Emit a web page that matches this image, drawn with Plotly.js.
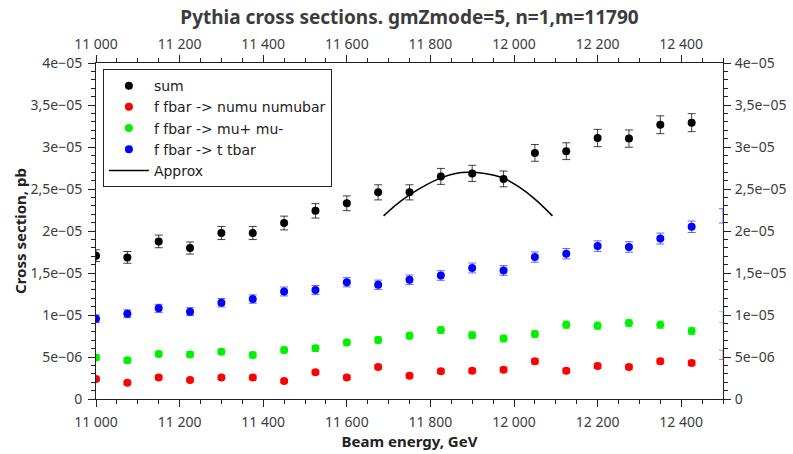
<!DOCTYPE html>
<html>
<head>
<meta charset="utf-8">
<script src="https://cdn.plot.ly/plotly-3.0.1.min.js"></script>
<style>html,body{margin:0;padding:0;background:#fff}#chart{width:793px;height:454px}</style>
</head>
<body>
<div id="chart"></div>
<script>
// Beam energies (GeV)
const energy = [11000, 11075, 11150, 11225, 11300, 11375, 11450, 11525, 11600, 11675,
                11750, 11825, 11900, 11975, 12050, 12125, 12200, 12275, 12350, 12425];

// Cross sections (pb)
const sumXs = [17.06e-6, 16.86e-6, 18.76e-6, 17.97e-6, 19.76e-6, 19.76e-6, 20.95e-6, 22.4e-6, 23.3e-6, 24.6e-6,
               24.6e-6, 26.5e-6, 26.86e-6, 26.2e-6, 29.3e-6, 29.5e-6, 31.07e-6, 31.0e-6, 32.65e-6, 32.9e-6];
const sumErr = [0.70e-6, 0.70e-6, 0.75e-6, 0.72e-6, 0.78e-6, 0.78e-6, 0.82e-6, 0.86e-6, 0.88e-6, 0.90e-6,
                0.90e-6, 0.95e-6, 0.96e-6, 0.94e-6, 1.00e-6, 1.00e-6, 1.03e-6, 1.03e-6, 1.06e-6, 1.07e-6];

const numuXs = [2.38e-6, 1.94e-6, 2.57e-6, 2.26e-6, 2.57e-6, 2.57e-6, 2.14e-6, 3.17e-6, 2.57e-6, 3.81e-6,
                2.77e-6, 3.29e-6, 3.37e-6, 3.49e-6, 4.48e-6, 3.37e-6, 3.93e-6, 3.81e-6, 4.48e-6, 4.29e-6];
const numuErr = [0.23e-6, 0.21e-6, 0.24e-6, 0.22e-6, 0.24e-6, 0.24e-6, 0.22e-6, 0.27e-6, 0.24e-6, 0.29e-6,
                 0.25e-6, 0.27e-6, 0.28e-6, 0.28e-6, 0.32e-6, 0.28e-6, 0.30e-6, 0.29e-6, 0.32e-6, 0.31e-6];

const mumuXs = [4.95e-6, 4.6e-6, 5.36e-6, 5.3e-6, 5.63e-6, 5.24e-6, 5.83e-6, 6.03e-6, 6.74e-6, 7.02e-6,
                7.54e-6, 8.21e-6, 7.6e-6, 7.2e-6, 7.74e-6, 8.85e-6, 8.73e-6, 9.05e-6, 8.85e-6, 8.1e-6];
const mumuErr = [0.33e-6, 0.32e-6, 0.34e-6, 0.34e-6, 0.35e-6, 0.34e-6, 0.36e-6, 0.37e-6, 0.39e-6, 0.39e-6,
                 0.41e-6, 0.43e-6, 0.41e-6, 0.40e-6, 0.42e-6, 0.44e-6, 0.44e-6, 0.45e-6, 0.44e-6, 0.43e-6];

const ttXs = [9.56e-6, 10.15e-6, 10.79e-6, 10.4e-6, 11.46e-6, 11.9e-6, 12.8e-6, 12.97e-6, 13.9e-6, 13.6e-6,
              14.2e-6, 14.7e-6, 15.6e-6, 15.3e-6, 16.9e-6, 17.3e-6, 18.2e-6, 18.1e-6, 19.1e-6, 20.5e-6];
const ttErr = [0.45e-6, 0.47e-6, 0.48e-6, 0.47e-6, 0.50e-6, 0.50e-6, 0.53e-6, 0.54e-6, 0.55e-6, 0.55e-6,
               0.56e-6, 0.57e-6, 0.59e-6, 0.58e-6, 0.61e-6, 0.62e-6, 0.63e-6, 0.63e-6, 0.65e-6, 0.68e-6];

// Points sitting on the right edge (only their error bars show)
const edgeEnergy = [12500];
const edgeNumu = [5.25e-6], edgeNumuErr = [0.55e-6];
const edgeMumu = [9.75e-6], edgeMumuErr = [0.65e-6];
const edgeTt = [21.8e-6], edgeTtErr = [0.85e-6];

// Approximation curve
const approxE = [11688, 11720, 11750, 11790, 11824, 11860, 11890, 11930, 11974, 12010, 12050, 12092];
const approxXs = [21.8e-6, 23.2e-6, 24.3e-6, 25.5e-6, 26.3e-6, 26.85e-6, 27.0e-6, 26.85e-6, 26.3e-6, 25.3e-6, 23.8e-6, 21.8e-6];

// Axis ticks
const xTickVals = [11000, 11200, 11400, 11600, 11800, 12000, 12200, 12400];
const xTickText = ["11 000", "11 200", "11 400", "11 600", "11 800", "12 000", "12 200", "12 400"];
const yTickVals = [0, 5e-6, 1e-5, 1.5e-5, 2e-5, 2.5e-5, 3e-5, 3.5e-5, 4e-5];
const yTickText = ["0", "5e\u221206", "1e\u221205", "1,5e\u221205", "2e\u221205", "2,5e\u221205", "3e\u221205", "3,5e\u221205", "4e\u221205"];

const FONT = "Noto Sans, Open Sans, sans-serif";
const TXT = "#3c3c3c";

function pts(name, y, err, color, errColor) {
  return {
    type: "scatter", mode: "markers", name: name, x: energy, y: y,
    marker: {color: color, size: 8, symbol: "circle"},
    error_y: {type: "data", array: err, visible: true, color: errColor, thickness: 1, width: 4},
    cliponaxis: true
  };
}
function edge(y, err, errColor) {
  return {
    type: "scatter", mode: "markers", x: edgeEnergy, y: y, showlegend: false, hoverinfo: "skip",
    marker: {color: "rgba(0,0,0,0)", size: 8},
    error_y: {type: "data", array: err, visible: true, color: errColor, thickness: 1, width: 4},
    cliponaxis: true
  };
}

const traces = [
  pts("sum", sumXs, sumErr, "#000000", "rgba(0,0,0,0.75)"),
  pts("f fbar -> numu numubar", numuXs, numuErr, "#ff0000", "rgba(255,0,0,0.55)"),
  pts("f fbar -> mu+ mu-", mumuXs, mumuErr, "#00f000", "rgba(0,230,0,0.55)"),
  pts("f fbar -> t tbar", ttXs, ttErr, "#0000ff", "rgba(0,0,255,0.6)"),
  {type: "scatter", mode: "lines", name: "Approx", x: approxE, y: approxXs,
   line: {color: "#000000", width: 1.5, shape: "spline"}},
  edge(edgeNumu, edgeNumuErr, "rgba(255,0,0,0.55)"),
  edge(edgeMumu, edgeMumuErr, "rgba(0,230,0,0.55)"),
  edge(edgeTt, edgeTtErr, "rgba(0,0,255,0.6)"),
  {type: "scatter", mode: "markers", x: [11000], y: [0], xaxis: "x2", yaxis: "y2",
   showlegend: false, hoverinfo: "skip", marker: {opacity: 0}}
];

const xCommon = {
  range: [11000, 12500], tickmode: "array", tickvals: xTickVals, ticktext: xTickText,
  ticks: "outside", ticklen: 7, tickwidth: 1, tickcolor: "#222",
  minor: {tickmode: "linear", tick0: 11000, dtick: 50, ticks: "outside", ticklen: 4, tickcolor: "#222"},
  showline: true, linecolor: "#222", linewidth: 1, showgrid: false, zeroline: false,
  tickfont: {family: FONT, size: 14, color: TXT}
};
const yCommon = {
  range: [0, 4e-5], tickmode: "array", tickvals: yTickVals, ticktext: yTickText,
  ticks: "outside", ticklen: 7, tickwidth: 1, tickcolor: "#222",
  minor: {tickmode: "linear", tick0: 0, dtick: 1e-6, ticks: "outside", ticklen: 4, tickcolor: "#222"},
  showline: true, linecolor: "#222", linewidth: 1, showgrid: false, zeroline: false,
  tickfont: {family: FONT, size: 14, color: TXT}
};

const layout = {
  width: 793, height: 454,
  margin: {l: 96, r: 70, t: 63, b: 55},
  paper_bgcolor: "#ffffff", plot_bgcolor: "#ffffff",
  font: {family: FONT, color: TXT},
  title: {text: "<b>Pythia cross sections. gmZmode=5, n=1,m=11790</b>",
          font: {family: FONT, size: 19, color: TXT},
          x: 0.5, xref: "paper", xanchor: "center", y: 0.962, yref: "container", yanchor: "middle"},
  xaxis: Object.assign({}, xCommon, {side: "bottom", ticklabelstandoff: 3,
    title: {text: "<b>Beam energy, GeV</b>", font: {family: FONT, size: 15, color: "#222"}, standoff: 4}}),
  xaxis2: Object.assign({}, xCommon, {side: "top", overlaying: "x", anchor: "y"}),
  yaxis: Object.assign({}, yCommon, {side: "left", ticklabelstandoff: 3,
    title: {text: "<b>Cross section, pb</b>", font: {family: FONT, size: 15, color: "#222"}, standoff: 0}}),
  yaxis2: Object.assign({}, yCommon, {side: "right", overlaying: "y", anchor: "x", ticklabelstandoff: 1}),
  showlegend: true,
  legend: {x: 0.011, y: 0.982, xanchor: "left", yanchor: "top",
           bgcolor: "#ffffff", bordercolor: "#222", borderwidth: 1,
           font: {family: "DejaVu Sans, sans-serif", size: 14, color: "#222"}, itemwidth: 40, tracegroupgap: 0}
};

Plotly.newPlot("chart", traces, layout, {displayModeBar: false, staticPlot: true});
</script>
</body>
</html>
